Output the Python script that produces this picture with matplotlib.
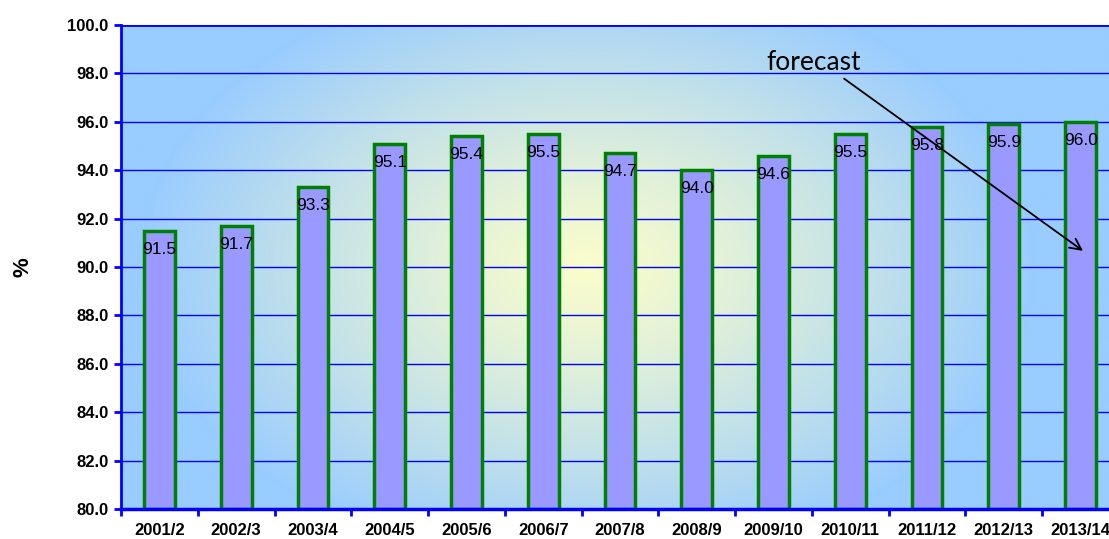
import numpy as np
import matplotlib
matplotlib.use("Agg")
import matplotlib.pyplot as plt
from matplotlib.colors import to_rgb

categories = ["2001/2", "2002/3", "2003/4", "2004/5", "2005/6", "2006/7", "2007/8",
              "2008/9", "2009/10", "2010/11", "2011/12", "2012/13", "2013/14"]
values = [91.5, 91.7, 93.3, 95.1, 95.4, 95.5, 94.7, 94.0, 94.6, 95.5, 95.8, 95.9, 96.0]
yticks = [80.0, 82.0, 84.0, 86.0, 88.0, 90.0, 92.0, 94.0, 96.0, 98.0, 100.0]

NARROW = ["Liberation Sans Narrow", "Liberation Sans", "DejaVu Sans"]

fig = plt.figure(figsize=(11.09, 5.39), dpi=100)
ax = fig.add_axes([121/1109, 30/539, 998/1109, 484/539])

x = np.arange(len(categories))
ax.set_xlim(-0.5, len(categories) - 0.5)
ax.set_ylim(80, 100)

# radial gradient background
nx, ny = 400, 200
gx = np.linspace(0, 1, nx)
gy = np.linspace(0, 1, ny)
X, Y = np.meshgrid(gx, gy)
r = np.sqrt(((X - 0.466) / 0.45) ** 2 + ((Y - 0.5) / 0.62) ** 2)
t = np.clip(r, 0, 1) ** 1.2
c_in = np.array(to_rgb("#FAFDCC"))
c_out = np.array(to_rgb("#99CCFF"))
img = c_in[None, None, :] * (1 - t[..., None]) + c_out[None, None, :] * t[..., None]
ax.imshow(img, extent=[-0.5, len(categories) - 0.5, 80, 100], origin="lower",
          aspect="auto", zorder=0, interpolation="bilinear")

# grid lines
for yv in yticks:
    ax.axhline(yv, color="#0000FF", lw=1.0, zorder=1)

ax.bar(x, [v - 80 for v in values], bottom=80, width=0.4, color="#9999FF",
       edgecolor="#008000", linewidth=2.5, zorder=2)

for xi, v in zip(x, values):
    ax.annotate(f"{v:.1f}", (xi, v), xytext=(0, -8), textcoords="offset points",
                ha="center", va="top", fontsize=12.5, family=NARROW, color="black",
                zorder=3)

ax.set_yticks(yticks)
ax.set_yticklabels([f"{v:.1f}" for v in yticks], family=NARROW, fontweight="bold",
                   fontsize=12)
ax.set_xticks(x)
ax.set_xticklabels(categories, family=NARROW, fontweight="bold", fontsize=12)
ax.set_xticks(np.arange(-0.5, len(categories), 1.0), minor=True)
ax.tick_params(axis="x", which="major", length=0, pad=10)
ax.tick_params(axis="x", which="minor", length=5, width=2, color="#0000FF", direction="out")
ax.tick_params(axis="y", length=5, width=2, color="#0000FF", direction="out", pad=4)

for s in ["top", "right"]:
    ax.spines[s].set_visible(False)
ax.spines["left"].set_color("#0000FF")
ax.spines["left"].set_linewidth(2)
ax.spines["bottom"].set_color("#0000FF")
ax.spines["bottom"].set_linewidth(2.5)
ax.axhline(100, color="#0000FF", lw=2, zorder=4)

ax.set_ylabel("%", family=NARROW, fontweight="bold", fontsize=16, labelpad=24)

ax.text(8.52, 98.45, "forecast", fontsize=19, family=["Lato", "DejaVu Sans"],
        ha="center", va="center", color="black", zorder=5)
ax.annotate("", xy=(12.06, 90.6), xytext=(8.89, 97.85),
            arrowprops=dict(arrowstyle="->", color="black", lw=1.3,
                            mutation_scale=20), zorder=5)

fig.savefig("out.png", dpi=100)
